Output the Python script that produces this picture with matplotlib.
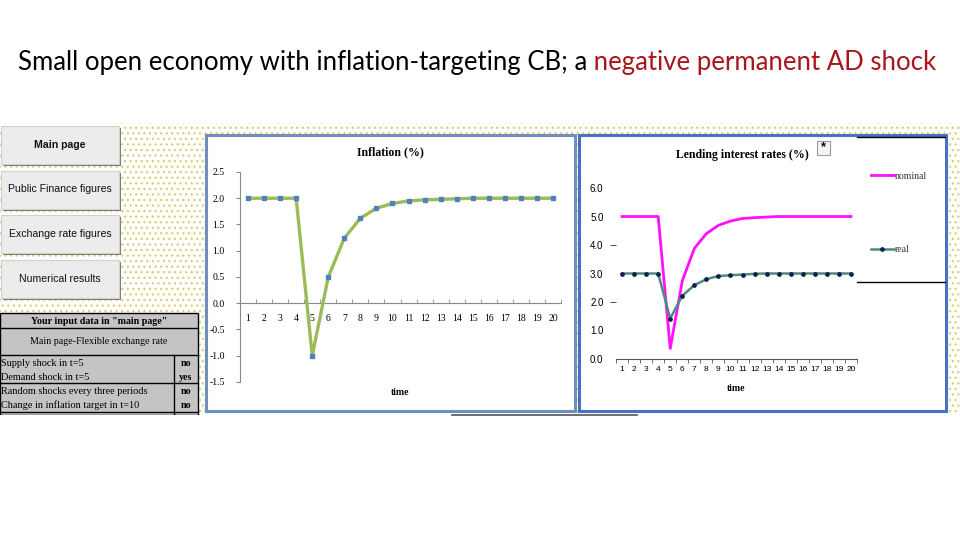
import numpy as np
import matplotlib.pyplot as plt
from matplotlib.patches import Rectangle

# data
periods = list(range(1, 21))
inflation = [2.0, 2.0, 2.0, 2.0, -1.0, 0.5, 1.24, 1.62, 1.81, 1.9,
             1.95, 1.97, 1.98, 1.99, 2.0, 2.0, 2.0, 2.0, 2.0, 2.0]
nominal = [5.0, 5.0, 5.0, 5.0, 0.37, 2.74, 3.88, 4.4, 4.69, 4.84,
           4.93, 4.96, 4.98, 5.0, 5.0, 5.0, 5.0, 5.0, 5.0, 5.0]
real = [3.0, 3.0, 3.0, 3.0, 1.42, 2.22, 2.59, 2.8, 2.91, 2.94,
        2.96, 2.99, 3.0, 3.0, 3.0, 3.0, 3.0, 3.0, 3.0, 3.0]
infl_ticks = [-1.5, -1.0, -0.5, 0.0, 0.5, 1.0, 1.5, 2.0, 2.5]
rate_ticks = [0.0, 1.0, 2.0, 3.0, 4.0, 5.0, 6.0]

buttons = ["Main page", "Public Finance figures", "Exchange rate figures",
           "Numerical results"]
table_rows = ["Supply shock in t=5", "Demand shock in t=5",
              "Random shocks every three periods",
              "Change in inflation target in t=10"]
table_vals = ["no", "yes", "no", "no"]

title_black = "Small open economy with inflation-targeting CB; a"
title_red = " negative permanent AD shock"

SERIF = "Liberation Serif"
SANS = "Liberation Sans"

fig = plt.figure(figsize=(9.6, 5.4), dpi=100)
bg = fig.add_axes([0, 0, 1, 1])
bg.set_xlim(0, 960)
bg.set_ylim(540, 0)
bg.axis("off")


def px_axes(x0, y0, x1, y1):
    return fig.add_axes([x0 / 960, 1 - y1 / 540, (x1 - x0) / 960, (y1 - y0) / 540])


# slide title
t1 = bg.text(18, 70, title_black, fontsize=18.55, family="Lato", va="baseline")
bg.annotate(title_red, xy=(1, 0), xycoords=t1, va="bottom", ha="left",
            fontsize=18.55, family="Lato", color="#a8161b")

# dotted excel background
plt.rcParams["hatch.linewidth"] = 0.9
bg.add_patch(Rectangle((0, 123), 960, 292, facecolor="white", edgecolor="#d8ce74",
                       hatch="...", linewidth=0))

# buttons
for i, lab in enumerate(buttons):
    y0 = 126 + i * 44.5
    bg.add_patch(Rectangle((3, y0 + 2), 118, 38, facecolor="#7a7a7a", linewidth=0))
    bg.add_patch(Rectangle((1, y0), 118, 38, facecolor="#ececec",
                           edgecolor="#d0d0d0", linewidth=0.8))
    bg.text(60, y0 + 19, lab, ha="center", va="center", family=SANS, fontsize=7.6,
            fontweight="bold" if i == 0 else "normal", color="#111111")

# input table
bg.add_patch(Rectangle((0, 313), 198, 102, facecolor="#c4c4c4", edgecolor="black",
                       linewidth=1))
for y in [328, 355, 383, 412]:
    bg.plot([0, 198], [y, y], color="black", lw=1)
bg.plot([174, 174], [355, 415], color="black", lw=1)
bg.text(99, 321, 'Your input data in "main page"', ha="center", va="center",
        family=SERIF, fontsize=7.2, fontweight="bold")
bg.text(99, 342, "Main page-Flexible exchange rate", ha="center", va="center",
        family=SERIF, fontsize=7.2)
for i, (lab, val) in enumerate(zip(table_rows, table_vals)):
    y = 363 + i * 14
    bg.text(1, y, lab, ha="left", va="center", family=SERIF, fontsize=7.4)
    bg.text(186, y, val, ha="center", va="center", family=SERIF, fontsize=7.2,
            fontweight="bold")
bg.add_patch(Rectangle((0, 415), 960, 125, facecolor="white", linewidth=0, zorder=3))
bg.plot([452, 637], [415, 415], color="#555555", lw=1.2, zorder=4)

# chart frames
bg.add_patch(Rectangle((206, 135), 369, 276, facecolor="white",
                       edgecolor="#6f8fbf", linewidth=2.2, zorder=2))
bg.add_patch(Rectangle((579, 135), 367, 276, facecolor="white",
                       edgecolor="#4a70c4", linewidth=2.2, zorder=2))
bg.text(390, 152, "Inflation (%)", ha="center", va="center", family=SERIF,
        fontsize=8.5, fontweight="bold", zorder=5)
bg.text(742, 155, "Lending interest rates (%)", ha="center", va="center",
        family=SERIF, fontsize=8.5, fontweight="bold", zorder=5)
bg.add_patch(Rectangle((817, 141), 13, 14, facecolor="#f4f4f4", edgecolor="#999999",
                       linewidth=0.8, zorder=5))
bg.text(823.5, 147, "*", ha="center", va="center", family=SANS, fontsize=9,
        fontweight="bold", zorder=6)
bg.plot([857, 945], [137, 137], color="black", lw=1, zorder=5)
bg.plot([857, 945], [282, 282], color="black", lw=1, zorder=5)

# inflation chart
ax1 = px_axes(240, 172, 561, 382)
ax1.set_facecolor("none")
ax1.plot(periods, inflation, color="#9bbb59", lw=2.4, marker="s", markersize=3.2,
         markerfacecolor="#4f81bd", markeredgecolor="#4f81bd", zorder=3)
ax1.set_xlim(0.5, 20.5)
ax1.set_ylim(-1.5, 2.5)
for s in ["top", "right"]:
    ax1.spines[s].set_visible(False)
ax1.spines["bottom"].set_position(("data", 0))
ax1.spines["bottom"].set_color("#8a8a8a")
ax1.spines["left"].set_color("#8a8a8a")
ax1.set_xticks(periods)
ax1.set_xticks(np.arange(1.5, 21, 1), minor=True)
ax1.tick_params(axis="x", which="major", length=0, pad=8)
ax1.tick_params(axis="x", which="minor", length=3, direction="in", color="#8a8a8a")
ax1.set_yticks(infl_ticks)
ax1.set_yticklabels([f"{v:.1f}" for v in infl_ticks])
ax1.tick_params(axis="y", length=3, color="#8a8a8a", pad=8)
for lab in ax1.get_xticklabels() + ax1.get_yticklabels():
    lab.set_family(SERIF)
    lab.set_fontsize(7)
ax1.text(0.5, -0.048, "time", transform=ax1.transAxes, ha="center", va="center",
         family=SERIF, fontsize=7, fontweight="bold")

# lending rate chart
ax2 = px_axes(616, 188, 857, 359)
ax2.set_facecolor("none")
ax2.plot(periods, nominal, color="#ff10ff", lw=2.0, label="nominal", zorder=3)
ax2.plot(periods, real, color="#4d8c7c", lw=1.8, marker="o", markersize=2.4,
         markerfacecolor="#10204a", markeredgecolor="#10204a", label="real", zorder=4)
ax2.set_xlim(0.5, 20.5)
ax2.set_ylim(0, 6)
for s in ["top", "right", "left"]:
    ax2.spines[s].set_visible(False)
ax2.spines["bottom"].set_color("#555555")
ax2.set_xticks(periods)
ax2.set_xticks(np.arange(0.5, 21, 1), minor=True)
ax2.tick_params(axis="x", which="major", length=0, pad=5)
ax2.tick_params(axis="x", which="minor", length=3, direction="out", color="#555555")
ax2.set_yticks(rate_ticks)
ax2.set_yticklabels([f"{v:.1f}" for v in rate_ticks])
ax2.yaxis.remove_overlapping_locs = False
ax2.set_yticks([2.0, 4.0], minor=True)
ax2.tick_params(axis="y", which="major", length=0, pad=9)
ax2.tick_params(axis="y", which="minor", length=4, color="#333333")
for lab in ax2.get_xticklabels():
    lab.set_family(SANS)
    lab.set_fontsize(6)
for lab in ax2.get_yticklabels():
    lab.set_family(SANS)
    lab.set_fontsize(7)
ax2.text(0.5, -0.175, "time", transform=ax2.transAxes, ha="center", va="center",
         family=SERIF, fontsize=7, fontweight="bold")
leg = ax2.legend(loc="upper left", bbox_to_anchor=(862 / 960, 1 - 163 / 540),
                 bbox_transform=fig.transFigure, frameon=False, handlelength=2.4,
                 handletextpad=0.1, labelspacing=6.6,
                 prop={"family": SERIF, "size": 7})
for txt in leg.get_texts():
    txt.set_color("#333333")

fig.savefig("out.png", dpi=100)
